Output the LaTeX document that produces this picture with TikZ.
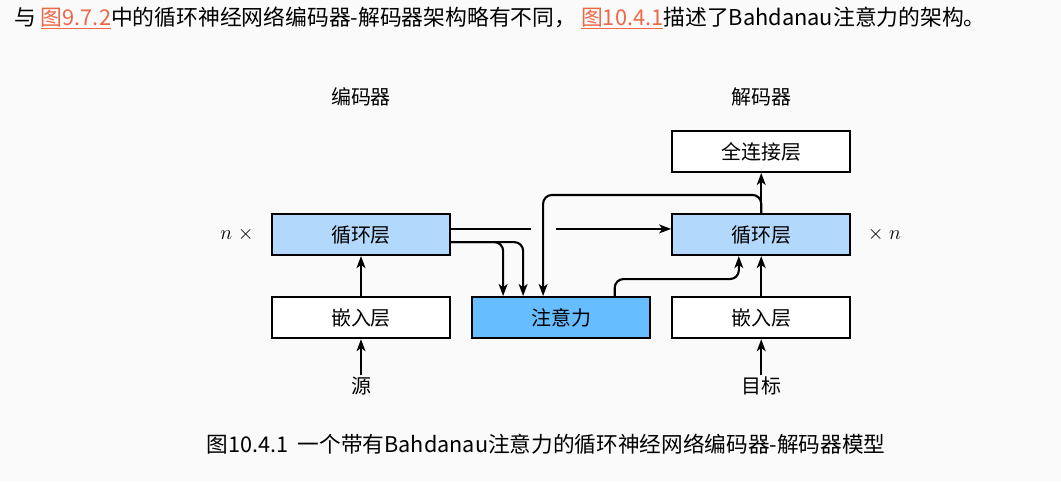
\documentclass[tikz,border=0pt]{standalone}
\usepackage{fontspec}
\usepackage{tikz}
\usetikzlibrary{arrows.meta,positioning}
\setmainfont{Noto Sans CJK SC}
\definecolor{pagegray}{RGB}{250,250,250}
\definecolor{rnnblue}{RGB}{178,216,252}
\definecolor{attblue}{RGB}{102,189,255}
\definecolor{linkred}{RGB}{238,104,72}
\newcommand{\figref}[1]{\textcolor{linkred}{\underline{#1}}}

\begin{document}
\begin{tikzpicture}[node distance=1cm and 0.5cm,
    every node/.style={font=\fontsize{14.2pt}{17pt}\selectfont},
    layer/.style={draw, line width=1.5pt, fill=white, minimum width=4.45cm, minimum height=1.025cm, inner sep=0pt},
    rnn/.style={layer, fill=rnnblue},
    arr/.style={-{Stealth[length=3mm,width=2.2mm,inset=0.8mm]}, line width=1.5pt},
    elbow/.style={arr, rounded corners=2.2mm}]
        \fill[pagegray] (0,0) rectangle (26.525,-12.025);
        \useasboundingbox (0,0) rectangle (26.525,-12.025);
        % page text
        \node[anchor=west, inner sep=0pt, font=\fontsize{15.5pt}{18pt}\selectfont] (intro) at (0.35,-0.45)
          {与 \figref{图9.7.2}中的循环神经网络编码器-解码器架构略有不同， \figref{图10.4.1}描述了Bahdanau注意力的架构。};
        \node[inner sep=0pt, font=\fontsize{15.4pt}{18pt}\selectfont] (caption) at (13.65,-11.1)
          {图10.4.1\ \ 一个带有Bahdanau注意力的循环神经网络编码器-解码器模型};
        % encoder
        \node[rnn] (encrnn) at (9.025,-5.8625) {循环层};
        \node[layer, below=of encrnn] (encemb) {嵌入层};
        \node[above=3.44cm of encrnn.center, anchor=center] (enclabel) {编码器};
        \node[below=0.9cm of encemb, inner sep=1pt] (src) {源};
        \node[left=0.85cm of encrnn.west, anchor=center] (ntimes) {$n\;\times$};
        % attention and decoder
        \node[layer, fill=attblue, right=of encemb] (att) {注意力};
        \node[layer, right=of att] (decemb) {嵌入层};
        \node[rnn, above=of decemb] (decrnn) {循环层};
        \node[layer, above=of decrnn] (fc) {全连接层};
        \node[above=3.44cm of decrnn.center, anchor=center] (declabel) {解码器};
        \node[below=0.9cm of decemb, inner sep=1pt] (tgt) {目标};
        \node[right=0.83cm of decrnn.east, anchor=center] (timesn) {$\times\; n$};
        % connectors
        \draw[arr] (src) -- (encemb);
        \draw[arr] (encemb) -- (encrnn);
        \draw[arr] (tgt) -- (decemb);
        \draw[arr] (decemb) -- (decrnn);
        \draw[arr] (decrnn) -- (fc);
        \coordinate (gapL) at ([yshift=1.4mm, xshift=2cm]encrnn.east);
        \coordinate (gapR) at ([yshift=1.4mm, xshift=-2.875cm]decrnn.west);
        \draw[line width=1.5pt] ([yshift=1.4mm]encrnn.east) -- (gapL);
        \draw[arr] (gapR) -- ([yshift=1.4mm]decrnn.west);
        \draw[elbow] ([yshift=-1.9mm]encrnn.east) -| ([xshift=-1.45cm]att.north);
        \draw[elbow] ([yshift=-1.9mm]encrnn.east) -| ([xshift=-0.95cm]att.north);
        \draw[elbow] (decrnn.north) -- ++(0,0.45) -| ([xshift=-0.45cm]att.north);
        \draw[elbow] ([xshift=1.34cm]att.north) -- ++(0,0.425) -| ([xshift=-0.56cm]decrnn.south);
      \end{tikzpicture}
\end{document}
